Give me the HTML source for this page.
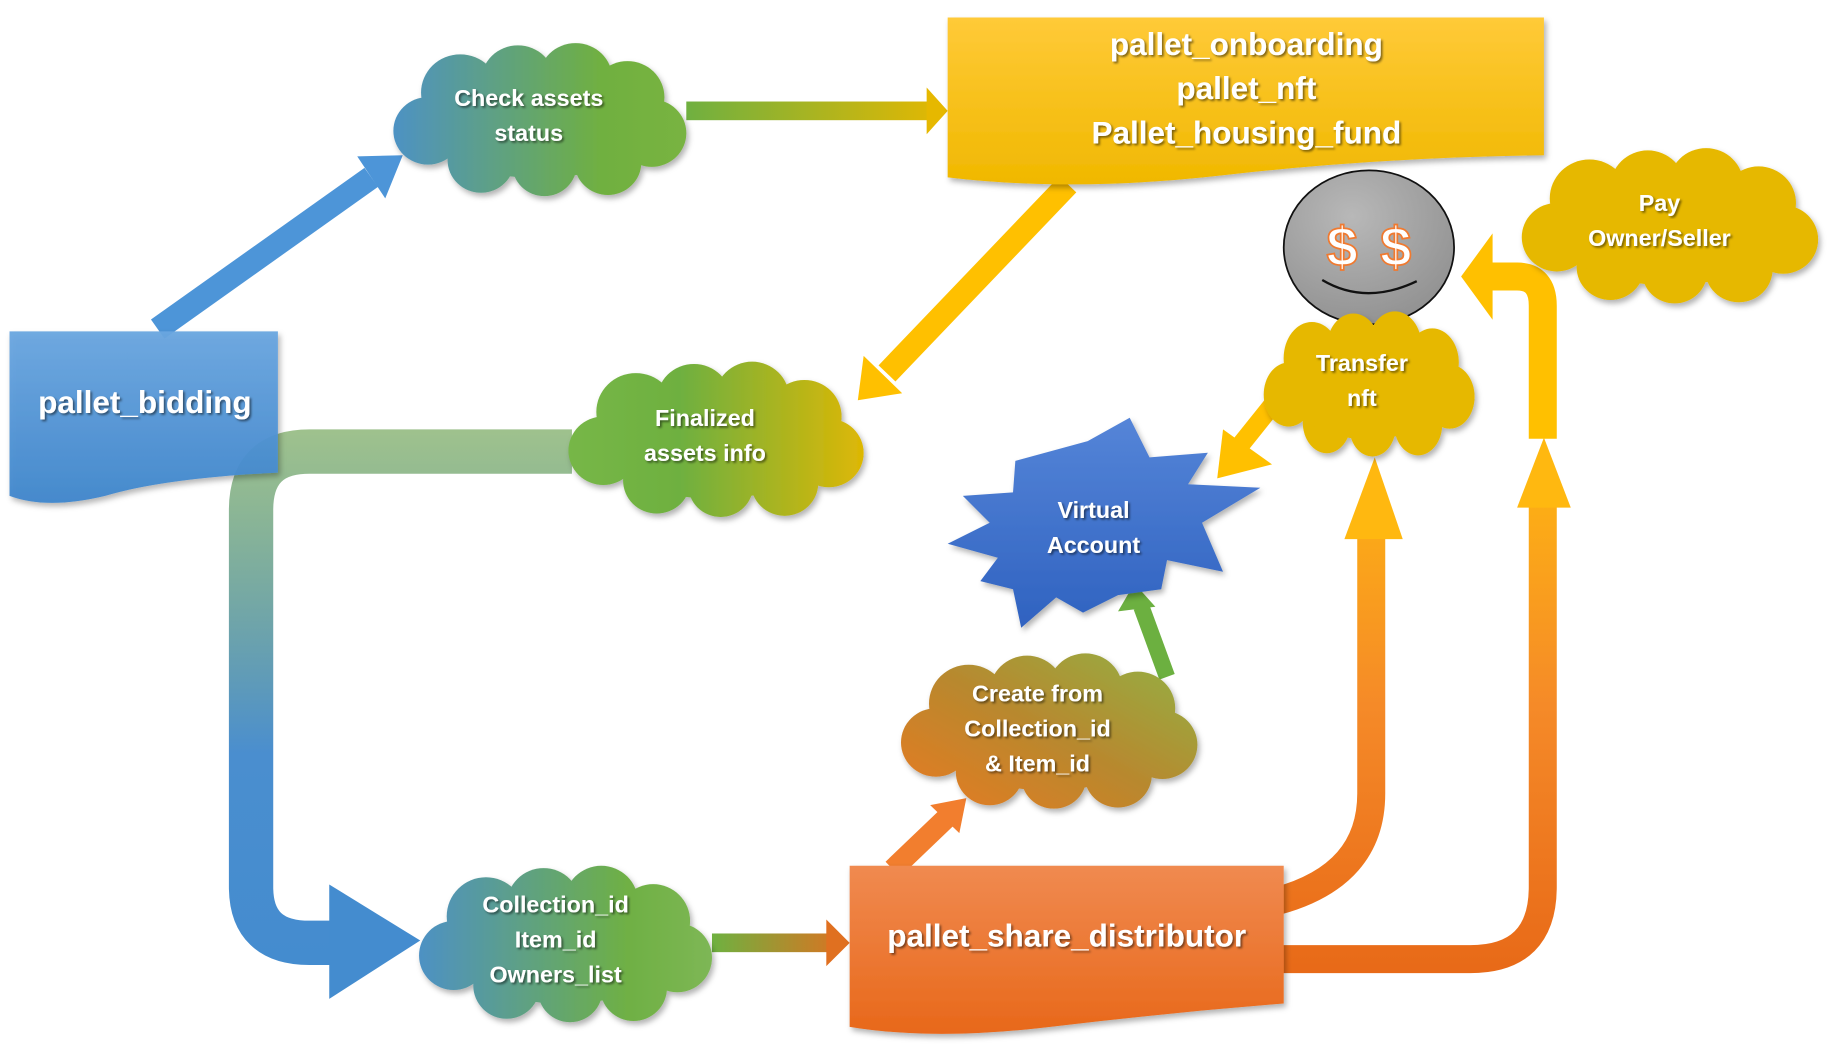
<!DOCTYPE html>
<html><head><meta charset="utf-8"><style>
html,body{margin:0;padding:0;background:#fff;}
svg{display:block}
text{font-family:"Liberation Sans",sans-serif;font-weight:bold;fill:#fff;text-anchor:middle;}
</style></head><body>
<svg width="1830" height="1049" viewBox="0 0 1568 899" xmlns="http://www.w3.org/2000/svg">
<defs>
<symbol id="cloud" viewBox="0 0 260 140" preserveAspectRatio="none" overflow="visible">
<circle cx="62" cy="46" r="34"/><circle cx="112" cy="36" r="32"/><circle cx="162" cy="34" r="32"/><circle cx="207" cy="50" r="32"/><circle cx="228" cy="82" r="30"/><circle cx="190" cy="108" r="29"/><circle cx="135" cy="110" r="28"/><circle cx="80" cy="106" r="29"/><circle cx="34" cy="80" r="30"/><ellipse cx="130" cy="72" rx="100" ry="50"/>
</symbol>
<filter id="sh" x="-10%" y="-15%" width="130%" height="140%"><feDropShadow dx="2" dy="3" stdDeviation="2.5" flood-color="#000" flood-opacity="0.3"/></filter>
<filter id="ts"><feDropShadow dx="1.5" dy="1.5" stdDeviation="0.8" flood-color="#000" flood-opacity="0.5"/></filter>
<linearGradient id="gCheck" x1="0" x2="1" y1="0" y2="0"><stop offset="0" stop-color="#4a8fd0"/><stop offset="0.7" stop-color="#70b040"/><stop offset="1" stop-color="#7ab442"/></linearGradient>
<linearGradient id="gFin" x1="0" x2="1"><stop offset="0" stop-color="#78b848"/><stop offset="0.4" stop-color="#6eb040"/><stop offset="1" stop-color="#e6b800"/></linearGradient>
<linearGradient id="gColl" x1="0" x2="1"><stop offset="0" stop-color="#4a8ed0"/><stop offset="0.7" stop-color="#6fb044"/><stop offset="1" stop-color="#80b858"/></linearGradient>
<linearGradient id="gCreate" x1="0" y1="1" x2="1" y2="0"><stop offset="0" stop-color="#f07820"/><stop offset="0.5" stop-color="#b8882e"/><stop offset="1" stop-color="#8cb848"/></linearGradient>
<linearGradient id="gBid" x1="0" y1="0" x2="0" y2="1"><stop offset="0" stop-color="#6aa6e0"/><stop offset="1" stop-color="#3f86cc"/></linearGradient>
<linearGradient id="gTop" x1="0" y1="0" x2="0" y2="1"><stop offset="0" stop-color="#ffca38"/><stop offset="1" stop-color="#f0b800"/></linearGradient>
<linearGradient id="gShare" x1="0" y1="0" x2="0" y2="1"><stop offset="0" stop-color="#f08a50"/><stop offset="1" stop-color="#e8681a"/></linearGradient>
<linearGradient id="gU" x1="0" y1="370" x2="0" y2="830" gradientUnits="userSpaceOnUse"><stop offset="0" stop-color="#6aa050" stop-opacity="0.65"/><stop offset="0.6" stop-color="#4a8ecf"/><stop offset="1" stop-color="#448ccf"/></linearGradient>
<linearGradient id="gA1" x1="590" x2="812" y1="0" y2="0" gradientUnits="userSpaceOnUse"><stop offset="0" stop-color="#70b040"/><stop offset="1" stop-color="#e6b800"/></linearGradient>
<linearGradient id="gA2" x1="612" x2="728" y1="0" y2="0" gradientUnits="userSpaceOnUse"><stop offset="0" stop-color="#70b040"/><stop offset="1" stop-color="#e07020"/></linearGradient>
<linearGradient id="gOr" x1="0" y1="380" x2="0" y2="830" gradientUnits="userSpaceOnUse"><stop offset="0" stop-color="#ffb810"/><stop offset="0.5" stop-color="#f58a28"/><stop offset="1" stop-color="#e86a18"/></linearGradient>
<linearGradient id="gStar" x1="0" y1="0" x2="0" y2="1"><stop offset="0" stop-color="#5585d8"/><stop offset="1" stop-color="#2f62c0"/></linearGradient>
<radialGradient id="gCoin" cx="0.4" cy="0.3" r="0.8"><stop offset="0" stop-color="#b8b8b8"/><stop offset="1" stop-color="#8e8e8e"/></radialGradient>
<mask id="mCheck"><use href="#cloud" x="333" y="35" width="257" height="135" fill="#fff"/></mask>
<mask id="mFin"><use href="#cloud" x="483" y="308" width="259" height="137" fill="#fff"/></mask>
<mask id="mColl"><use href="#cloud" x="355" y="740" width="257" height="138" fill="#fff"/></mask>
<mask id="mCreate"><use href="#cloud" x="768" y="558" width="260" height="137" fill="#fff"/></mask>
</defs>

<path d="M490 387 H265 Q215 387 215 437 V760 Q215 808 265 808 H290" fill="none" stroke="url(#gU)" stroke-width="38"/>
<polygon points="282,758 360,806 282,856" fill="#448ccf"/>

<line x1="135" y1="282" x2="318" y2="152" stroke="#4d95d8" stroke-width="20"/>
<polygon points="306,134 345,133 330,170" fill="#4d95d8"/>

<rect x="588" y="87" width="210" height="16" fill="url(#gA1)"/>
<polygon points="794,75 812,95 794,115" fill="#e6b800"/>

<line x1="915" y1="158" x2="760" y2="320" stroke="#ffc000" stroke-width="20"/>
<polygon points="740,305 773,337 735,343" fill="#ffc000"/>

<rect x="610" y="800" width="102" height="16" fill="url(#gA2)"/>
<polygon points="708,788 728,808 708,828" fill="#e07020"/>

<line x1="765" y1="745" x2="812" y2="700" stroke="#f27e2e" stroke-width="18"/>
<polygon points="797,690 828,684 822,714" fill="#f27e2e"/>

<line x1="1000" y1="580" x2="978" y2="520" stroke="#6cb040" stroke-width="14"/>
<polygon points="958,524 972,500 990,520" fill="#6cb040"/>

<line x1="1092" y1="345" x2="1060" y2="385" stroke="#ffc000" stroke-width="16"/>
<polygon points="1048,368 1090,398 1043,410" fill="#ffc000"/>

<path d="M1095 772 Q1175 750 1175 680 V455" fill="none" stroke="url(#gOr)" stroke-width="24"/>
<polygon points="1152,462 1178,392 1202,462" fill="#ffb810"/>

<path d="M1095 822 H1260 Q1322 822 1322 760 V430" fill="none" stroke="url(#gOr)" stroke-width="24"/>
<polygon points="1300,435 1323,375 1346,435" fill="#ffb810"/>
<path d="M1322 376 V262 Q1322 237 1300 237 H1275" fill="none" stroke="#ffc000" stroke-width="24"/>
<polygon points="1279,200 1252,237 1279,274" fill="#ffc000"/>

<path d="M8 284 H238 V405 Q140 410 90 425 Q40 437 8 425 Z" fill="url(#gBid)" filter="url(#sh)" fill-opacity="0.95"/>
<text x="124" y="354" font-size="27" filter="url(#ts)">pallet_bidding</text>

<path d="M812 15 H1323 V133 Q1180 135 1050 150 Q920 165 812 152 Z" fill="url(#gTop)" filter="url(#sh)"/>
<text x="1068" y="47" font-size="27" filter="url(#ts)">pallet_onboarding</text>
<text x="1068" y="85" font-size="27" filter="url(#ts)">pallet_nft</text>
<text x="1068" y="123" font-size="27" filter="url(#ts)">Pallet_housing_fund</text>

<path d="M728 742 H1100 V860 Q1000 868 900 880 Q800 892 728 880 Z" fill="url(#gShare)" filter="url(#sh)"/>
<text x="914" y="811" font-size="27" filter="url(#ts)">pallet_share_distributor</text>

<g filter="url(#sh)"><rect x="320" y="25" width="280" height="155" fill="url(#gCheck)" mask="url(#mCheck)"/></g>
<text x="453" y="91" font-size="20" filter="url(#ts)">Check assets</text>
<text x="453" y="121" font-size="20" filter="url(#ts)">status</text>

<g filter="url(#sh)"><rect x="470" y="298" width="282" height="157" fill="url(#gFin)" mask="url(#mFin)"/></g>
<text x="604" y="365" font-size="20" filter="url(#ts)">Finalized</text>
<text x="604" y="395" font-size="20" filter="url(#ts)">assets info</text>

<g filter="url(#sh)"><rect x="342" y="730" width="280" height="158" fill="url(#gColl)" mask="url(#mColl)"/></g>
<text x="476" y="782" font-size="20" filter="url(#ts)">Collection_id</text>
<text x="476" y="812" font-size="20" filter="url(#ts)">Item_id</text>
<text x="476" y="842" font-size="20" filter="url(#ts)">Owners_list</text>

<g filter="url(#sh)"><rect x="755" y="548" width="283" height="157" fill="url(#gCreate)" mask="url(#mCreate)"/></g>
<text x="889" y="601" font-size="20" filter="url(#ts)">Create from</text>
<text x="889" y="631" font-size="20" filter="url(#ts)">Collection_id</text>
<text x="889" y="661" font-size="20" filter="url(#ts)">&amp; Item_id</text>

<ellipse cx="1173" cy="212" rx="73" ry="66" fill="url(#gCoin)" stroke="#111" stroke-width="1.5"/>
<text x="1150" y="228" font-size="48" style="fill:#fff;stroke:#f07a30;stroke-width:1.5">$</text>
<text x="1196" y="228" font-size="48" style="fill:#fff;stroke:#f07a30;stroke-width:1.5">$</text>
<path d="M1133 240 Q1170 262 1214 241" fill="none" stroke="#111" stroke-width="2"/>

<use href="#cloud" x="1300" y="125" width="260" height="137" fill="#e6b800" filter="url(#sh)"/>
<text x="1422" y="181" font-size="20" filter="url(#ts)">Pay</text>
<text x="1422" y="211" font-size="20" filter="url(#ts)">Owner/Seller</text>

<use href="#cloud" x="1080" y="265" width="185" height="128" fill="#e6b800" filter="url(#sh)"/>
<text x="1167" y="318" font-size="20" filter="url(#ts)">Transfer</text>
<text x="1167" y="348" font-size="20" filter="url(#ts)">nft</text>

<polygon points="870,395 932,378 968,358 985,392 1035,388 1018,415 1080,418 1030,448 1048,490 1000,480 995,505 958,510 928,525 905,512 875,538 868,505 840,498 855,478 812,466 848,448 825,425 868,422" fill="url(#gStar)" filter="url(#sh)"/>
<text x="937" y="444" font-size="20" filter="url(#ts)">Virtual</text>
<text x="937" y="474" font-size="20" filter="url(#ts)">Account</text>
</svg>
</body></html>
